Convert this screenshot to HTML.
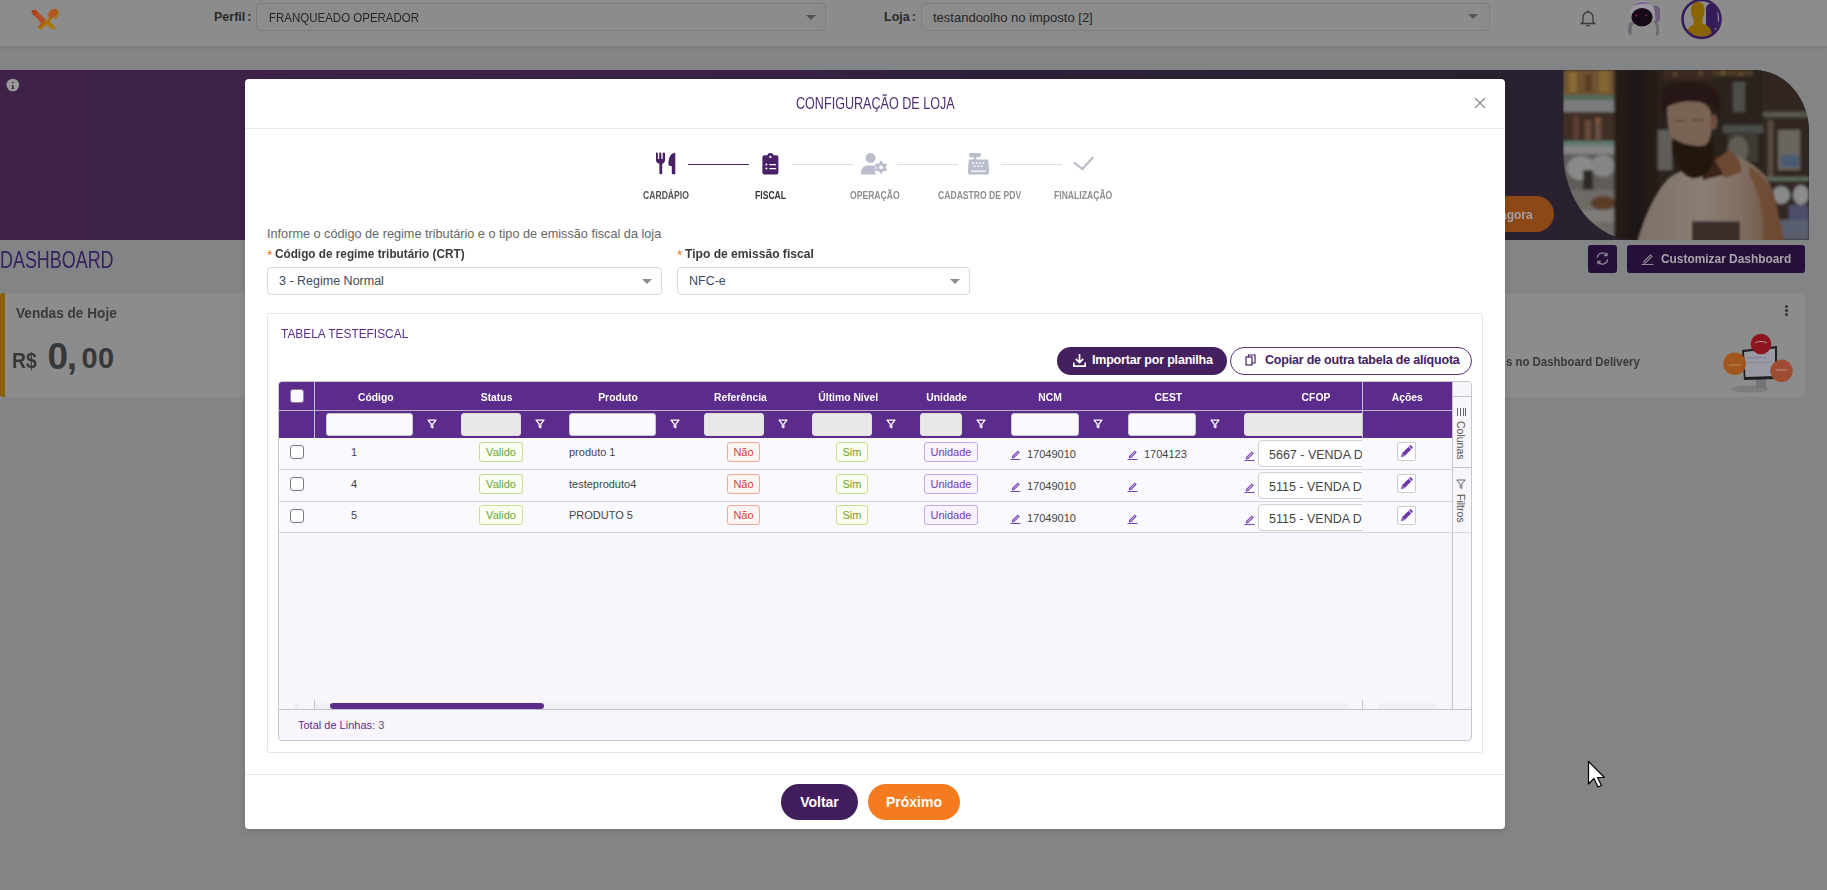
<!DOCTYPE html>
<html><head><meta charset="utf-8">
<style>
*{box-sizing:border-box;margin:0;padding:0}
html,body{width:1827px;height:890px;overflow:hidden}
body{position:relative;background:#838486;font-family:"Liberation Sans",sans-serif;color:#333}
.a{position:absolute}
.cond{display:inline-block;transform-origin:0 50%}
/* background page (pre-dimmed colours) */
#hdr{left:0;top:0;width:1827px;height:47px;background:#8c8c8c;border-bottom:1px solid #7f7f80;box-shadow:0 1px 2px rgba(0,0,0,.08)}
.sel{border:1px solid #7d7d7d;border-radius:4px;background:#8c8c8c;height:28px}
.caret{width:0;height:0;border-left:5px solid transparent;border-right:5px solid transparent;border-top:5px solid #555}
#banner{left:0;top:70px;width:1808px;height:170px;background:linear-gradient(90deg,#3e2249 0%,#3c2248 30%,#382244 42%,#30203b 52%,#2a2132 72%,#28212c 100%);border-radius:0 60px 0 0}

/* modal */
#modal{left:245px;top:79px;width:1260px;height:750px;background:#fff;border-radius:4px;box-shadow:0 3px 6px rgba(0,0,0,.12)}
.step-l{font-size:10px;font-weight:bold;color:#8e8e8e;letter-spacing:0}
.lbl{font-size:13px;color:#333}
.fsel{border:1px solid #d9d9d9;border-radius:4px;background:#fff;height:29px}
.fcaret{width:0;height:0;border-left:5px solid transparent;border-right:5px solid transparent;border-top:5px solid #8c8c8c}
#card{left:267px;top:313px;width:1216px;height:440px;border:1px solid #e6e6e6;border-radius:2px;background:#fff}
#tbl{left:278px;top:381px;width:1194px;height:360px;border:1px solid #c8c8cc;border-radius:4px;background:#f8f5fc;overflow:hidden}
.th{position:absolute;top:1px;height:29px;line-height:29px;color:#fff;font-size:11.5px;font-weight:bold;text-align:center}
.fin{position:absolute;top:31px;height:23px;border-radius:3px;background:#fbf9fd;border:1px solid #c8c8d0}
.fin.g{background:#e8e8e8;border-color:#e0e0e0}
.fun{position:absolute;top:37px}
.td{position:absolute;font-size:11px;color:#444}
.bdg{position:absolute;height:20px;line-height:18px;border-radius:3px;font-size:11px;text-align:center;border:1px solid}
.bv{border-color:#c8e08a;background:#fbfef2;color:#6aa536}
.bn{border-color:#f2a89a;background:#fff5f2;color:#e0403a}
.bs{border-color:#c8e08a;background:#fbfef2;color:#6aa536}
.bu{border-color:#c6a8ec;background:#f8f3fe;color:#6c3fb0}
.pen{position:absolute}
</style></head><body>

<!-- ============ BACKGROUND PAGE ============ -->
<div id="hdr" class="a"></div>
<!-- logo -->
<svg class="a" style="left:29px;top:7px" width="32" height="26" viewBox="0 0 32 26">
  <path d="M2 5 L6 2 L17 13 L13 17 Z" fill="#b44b24"/>
  <path d="M13 14 L16 13 L17 16 L11 22 L9 21 Z" fill="#b0521e"/>
  <circle cx="4" cy="4.5" r=".8" fill="#a3180c"/><circle cx="6.5" cy="5" r=".8" fill="#a3180c"/><circle cx="5" cy="7.5" r=".8" fill="#a3180c"/>
  <path d="M17 16 L20 14 L25 19 L22 22 Z" fill="#a87400"/>
  <path d="M23 21 L25.5 19.5 L27 21 L25 23 Z" fill="#a87400"/>
  <ellipse cx="24" cy="6.5" rx="4" ry="5.5" transform="rotate(45 24 6.5)" fill="#b0581e"/>
  <path d="M28.5 3 C30 6 29 9.5 25.5 11.5" stroke="#a87400" stroke-width="1.6" fill="none"/>
  <path d="M21 10 L10 21 L12 23 L23 12 Z" fill="#a87000"/>
</svg>
<div class="a" style="left:214px;top:10px;font-size:12.5px;color:#2a2a2a;font-weight:bold">Perfil<span style="margin-left:2px">:</span></div>
<div class="a sel" style="left:256px;top:3px;width:570px"></div>
<div class="a" style="left:269px;top:10px;font-size:13px;color:#262626"><span class="cond" style="transform:scaleX(.884)">FRANQUEADO OPERADOR</span></div>
<div class="a caret" style="left:806px;top:15px"></div>
<div class="a" style="left:884px;top:10px;font-size:12.5px;color:#2a2a2a;font-weight:bold">Loja<span style="margin-left:2px">:</span></div>
<div class="a sel" style="left:921px;top:3px;width:569px"></div>
<div class="a" style="left:933px;top:10px;font-size:13px;color:#262626">testandoolho no imposto [2]</div>
<div class="a caret" style="left:1468px;top:14px"></div>



<!-- bell -->
<svg class="a" style="left:1580px;top:9px" width="16" height="18" viewBox="0 0 16 18" fill="none" stroke="#3b3b3b" stroke-width="1.3"><path d="M3 13 V8 A5 5 0 0 1 13 8 V13 L14.5 14.5 H1.5 Z"/><path d="M8 1.5 V3"/><path d="M6.5 16 A1.6 1.6 0 0 0 9.5 16"/></svg>
<!-- robot avatar -->
<svg class="a" style="left:1626px;top:0" width="38" height="38" viewBox="0 0 38 38">
  <path d="M4 22 C1.5 26 1.5 31 3.5 35 L6 34 C5 30 5.5 26 8 23 Z" fill="#6a6a70"/>
  <path d="M30 20 C33 24 34 30 32 36 L29.5 35 C31 30 30.5 25 28 21.5 Z" fill="#6a6a70"/>
  <path d="M28 6 C31 5 34 7 34 11 V19 C34 21 32 22 30 21.5 Z" fill="#6e5a7a"/>
  <ellipse cx="16.5" cy="14" rx="12" ry="13.2" fill="#9c99a2"/>
  <path d="M7 6 C10 1.5 20 0 27 5 C24 3.5 14 3 7 6 Z" fill="#7a5e8a"/>
  <ellipse cx="16" cy="17.2" rx="10.6" ry="9.2" fill="#160a18"/>
  <circle cx="10.5" cy="15.5" r=".9" fill="#b0203a"/><circle cx="20" cy="15.5" r=".9" fill="#b0203a"/>
</svg>
<!-- user avatar -->
<svg class="a" style="left:1680px;top:-2px" width="44" height="43" viewBox="0 0 44 43">
  <defs><clipPath id="uc"><circle cx="21.5" cy="21" r="18"/></clipPath></defs>
  <g clip-path="url(#uc)">
    <path d="M26 10 C27 6 30 5 32 5.5 C36 6.5 37.5 11 37.5 16 C37.5 22 38.5 25 40.5 28 C38 30 36 30.5 34 30 L40 38 L30 42 L26 30 Z" fill="#341b5a"/>
    <path d="M11 13 C11 6 14 4 18 4 C22 4 24.5 6 24.5 12 C24.5 15 24 18 22.5 20 V26 C28 27.5 31.5 30 32 37 L31 42 H6 C6 34 8 29 13.5 26.5 V20.5 C12 18 11 16 11 13 Z" fill="#8a6403"/>
  </g>
  <circle cx="21.5" cy="21" r="19" fill="none" stroke="#341b5a" stroke-width="2.6"/>
</svg>
<div id="banner" class="a"></div>
<!-- info icon -->
<svg class="a" style="left:6px;top:78px" width="14" height="14" viewBox="0 0 14 14"><circle cx="6.8" cy="7" r="6.3" fill="#9a9a9a"/><rect x="6" y="3.9" width="1.6" height="1.4" fill="#3e2249"/><path d="M5.6 6.9 H7.6 V10.3 H8.1 V10.9 H5.6 V10.3 H6.1 V7.5 H5.6 Z" fill="#3e2249"/></svg>
<!-- photo -->
<svg class="a" style="left:1563px;top:70px" width="246" height="170" viewBox="0 0 246 170">
  <defs>
    <clipPath id="pc"><path d="M0 0 H191 A55 62 0 0 1 246 62 V170 H72 A72 89 0 0 1 0 81 Z"/></clipPath>
    <linearGradient id="shirt" x1="0" y1="0" x2="1" y2="0"><stop offset="0" stop-color="#7d7068"/><stop offset=".45" stop-color="#8a7e73"/><stop offset=".75" stop-color="#7e6c5e"/><stop offset="1" stop-color="#6a4630"/></linearGradient>
    <linearGradient id="pil" x1="0" y1="0" x2="1" y2="0"><stop offset="0" stop-color="#2a1f1a"/><stop offset=".5" stop-color="#1c1411"/><stop offset="1" stop-color="#2a201b"/></linearGradient>
    <filter id="bl" x="-20%" y="-20%" width="140%" height="140%"><feGaussianBlur stdDeviation="1.6"/></filter>
    <filter id="bl2"><feGaussianBlur stdDeviation="0.8"/></filter>
  </defs>
  <g clip-path="url(#pc)">
    <rect width="246" height="170" fill="#2b211c"/>
    <g filter="url(#bl)">
      <!-- left shelf -->
      <rect x="0" y="0" width="52" height="26" fill="#6e5330"/>
      <rect x="6" y="2" width="8" height="20" fill="#8a6a32"/>
      <rect x="22" y="4" width="7" height="18" fill="#5a3e24"/>
      <rect x="36" y="0" width="10" height="22" fill="#846633"/>
      <rect x="0" y="25" width="52" height="5" fill="#4f6b5a"/>
      <rect x="0" y="30" width="52" height="12" fill="#7a7c7b"/>
      <rect x="0" y="42" width="52" height="30" fill="#3d2e28"/>
      <rect x="10" y="46" width="6" height="24" fill="#5a3e30"/>
      <rect x="22" y="50" width="6" height="20" fill="#6a4a38"/>
      <rect x="32" y="48" width="6" height="22" fill="#6a5040"/>
      <circle cx="35" cy="50" r="2" fill="#a0562a"/>
      <rect x="0" y="71" width="52" height="5" fill="#5f7a6c"/>
      <rect x="0" y="76" width="52" height="8" fill="#858786"/>
      <rect x="0" y="84" width="52" height="36" fill="#5e5c5a"/>
      <ellipse cx="18" cy="98" rx="14" ry="12" fill="#8a8a88"/>
      <ellipse cx="40" cy="96" rx="12" ry="11" fill="#848584"/>
      <rect x="20" y="100" width="10" height="20" fill="#2f2a26"/>
      <rect x="0" y="120" width="52" height="50" fill="#6e6a66"/>
      <ellipse cx="40" cy="133" rx="12" ry="7" fill="#5a3a28"/>
      <rect x="0" y="140" width="52" height="12" fill="#7e7c78"/>
      <!-- pillar -->
      <rect x="51" y="0" width="46" height="170" fill="url(#pil)"/>
      <!-- back area -->
      <rect x="97" y="0" width="110" height="170" fill="#2a201b"/>
      <rect x="100" y="0" width="50" height="10" fill="#3a2c22"/><circle cx="112" cy="4" r="2" fill="#6a5030"/><circle cx="138" cy="3" r="2" fill="#6a5030"/>
      <rect x="150" y="0" width="40" height="6" fill="#4a3a28"/><circle cx="160" cy="3" r="2" fill="#7a6030"/><circle cx="178" cy="4" r="1.6" fill="#7a5a30"/>
      <rect x="95" y="60" width="14" height="40" fill="#5e5d5a"/>
      <rect x="160" y="55" width="40" height="8" fill="#4c4e48"/>
      <rect x="165" y="62" width="30" height="30" fill="#3e3a33"/>
      <ellipse cx="175" cy="80" rx="10" ry="14" fill="#615d55"/>
      <rect x="170" y="12" width="12" height="30" fill="#4d5048"/>
      <!-- right area -->
      <rect x="200" y="0" width="46" height="170" fill="#302620"/>
      <rect x="200" y="42" width="46" height="5" fill="#5c5a4e"/>
      <rect x="205" y="50" width="5" height="60" fill="#5a4b3c"/>
      <rect x="200" y="107" width="46" height="4" fill="#5a6a5c"/>
      <rect x="215" y="60" width="22" height="40" fill="#6a655e"/>
      <rect x="218" y="85" width="18" height="12" fill="#4a5a72"/>
      <ellipse cx="218" cy="125" rx="9" ry="9" fill="#8a8a8a"/>
      <ellipse cx="238" cy="125" rx="8" ry="10" fill="#8c8c8e"/>
      <rect x="226" y="135" width="20" height="35" fill="#4c4e6a"/>
      <rect x="210" y="150" width="36" height="20" fill="#5a5e70"/>
    </g>
    <g filter="url(#bl2)">
    <!-- shirt -->
    <path d="M74 172 C80 150 90 126 104 110 C112 102 122 100 132 98 L152 92 L168 84 C180 88 196 96 204 108 C212 122 216 146 221 172 Z" fill="url(#shirt)"/>
    <path d="M186 96 C198 104 208 116 212 134 L221 172 L200 172 C202 150 198 124 186 104 Z" fill="#6e4a32" opacity=".8"/>
    <!-- neck shadow / collar -->
    <path d="M136 92 L158 84 L164 104 L140 110 Z" fill="#3a2418"/>
    <path d="M152 90 L166 80 C174 86 180 94 178 102 L162 108 Z" fill="#6c4631"/>
    <!-- face -->
    <path d="M104 40 C104 33 114 31 126 31 C138 31 146 34 148 42 L149 58 C148 66 146 72 142 76 L112 76 C106 66 104 54 104 40 Z" fill="#7a6254"/>
    <ellipse cx="151" cy="52" rx="3.5" ry="8" fill="#6a4e40"/>
    <path d="M112 51 L122 51" stroke="#4a352a" stroke-width="1.2"/>
    <path d="M130 50 L140 50" stroke="#4a352a" stroke-width="1.2"/>
    <!-- hair -->
    <path d="M98 36 C95 18 108 11 126 12 C146 12 158 20 157 36 L155 48 C152 40 150 36 146 34 C136 30 116 30 104 37 L101 46 Z" fill="#261914"/>
    <!-- beard -->
    <path d="M110 68 C109 88 116 104 128 108 C140 110 150 100 151 86 L150 64 C148 72 144 76 138 76 C128 76 118 74 110 68 Z" fill="#231510"/>
    <!-- tablet -->
    <rect x="129" y="150" width="48" height="22" fill="#3a2e29"/>
    <rect x="129" y="150" width="48" height="1.5" fill="#7a726c"/>
    </g>
  </g>
</svg>
<!-- agora button -->
<div class="a" style="left:1470px;top:196px;width:84px;height:36px;border-radius:18px;background:#8c4816"></div>
<div class="a" style="left:1500px;top:207px;font-size:13px;font-weight:bold;color:#a5a2a8"><span class="cond" style="transform:scaleX(.92)">agora</span></div>

<!-- DASHBOARD title -->
<div class="a" style="left:0;top:248px;font-size:24px;color:#36215e;line-height:24px"><span class="cond" style="transform:scaleX(.747)">DASHBOARD</span></div>
<!-- refresh btn -->
<div class="a" style="left:1588px;top:245px;width:29px;height:28px;border-radius:3px;background:#26103a"></div>
<svg class="a" style="left:1595px;top:251px" width="15" height="15" viewBox="0 0 16 16" fill="none" stroke="#8e8a92" stroke-width="1.4"><path d="M2.5 7 A5.5 5.5 0 0 1 12.5 4.5"/><path d="M13.5 9 A5.5 5.5 0 0 1 3.5 11.5"/><path d="M12.8 1.8 V4.8 H9.8"/><path d="M3.2 14.2 V11.2 H6.2"/></svg>
<!-- customizar btn -->
<div class="a" style="left:1627px;top:245px;width:178px;height:28px;border-radius:3px;background:#26103a"></div>
<svg class="a" style="left:1641px;top:252px" width="13" height="13" viewBox="0 0 13 13" fill="none" stroke="#8e8a92" stroke-width="1.1"><path d="M3 9.5 L9.5 3 L11 4.5 L4.5 11 H3 Z"/><path d="M0.5 12.5 H12.5"/></svg>
<div class="a" style="left:1661px;top:251px;font-size:13px;font-weight:bold;color:#a9a6ab"><span class="cond" style="transform:scaleX(.915)">Customizar Dashboard</span></div>

<!-- cards -->
<div class="a" style="left:0;top:293px;width:260px;height:104px;background:#8c8c8c;border-radius:3px"></div>
<div class="a" style="left:0;top:293px;width:5px;height:104px;background:#8a6000;border-radius:3px 0 0 3px"></div>
<div class="a" style="left:16px;top:305px;font-size:14.5px;font-weight:bold;color:#3a3a3c"><span class="cond" style="transform:scaleX(.94)">Vendas de Hoje</span></div>
<div class="a" style="left:11.6px;top:350.2px;font-size:22px;line-height:1;font-weight:bold;color:#38383a"><span class="cond" style="transform:scaleX(.88)">R$</span></div>
<div class="a" style="left:47.6px;top:337.5px;font-size:37px;line-height:1;font-weight:bold;color:#38383a">0</div><div class="a" style="left:66.8px;top:337.5px;font-size:37px;line-height:1;font-weight:bold;color:#38383a">,</div><div class="a" style="left:81.4px;top:344.3px;font-size:29px;line-height:1;font-weight:bold;color:#38383a;letter-spacing:.5px">00</div>

<div class="a" style="left:1490px;top:293px;width:315px;height:104px;background:#8c8c8c;border-radius:3px"></div>
<div class="a" style="left:1506px;top:354px;font-size:13.5px;font-weight:bold;color:#3a3a3c"><span class="cond" style="transform:scaleX(.845)">s no Dashboard Delivery</span></div>
<div class="a" style="left:1785px;top:305px;width:3px;height:3px;border-radius:50%;background:#333;box-shadow:0 4px 0 #333,0 8px 0 #333"></div>
<!-- delivery illus -->
<svg class="a" style="left:1720px;top:332px" width="75" height="62" viewBox="0 0 75 62">
  <ellipse cx="30" cy="57" rx="19" ry="3.5" fill="#7c7c7e"/>
  <rect x="36" y="47" width="10" height="9" fill="#747476"/>
  <path d="M22 18 L57 14 L57 47 L24 48 Z" fill="#1e1e22"/>
  <path d="M24 20 L55 16.5 L55 44 L25.5 45 Z" fill="#9a9aa2"/>
  <rect x="27" y="25" width="20" height="1.5" fill="#8a86a0"/>
  <rect x="27" y="30" width="22" height="1" fill="#8a8a94"/>
  <circle cx="41" cy="12" r="10.3" fill="#8c1520"/>
  <circle cx="14.7" cy="31.7" r="11.3" fill="#a0561c"/>
  <circle cx="61.5" cy="38.8" r="11.2" fill="#a04c34"/>
  <path d="M35 11 C38 9 44 9 47 11" stroke="#b89a9a" stroke-width="1" fill="none"/>
  <path d="M9 33 H21" stroke="#b09060" stroke-width="1"/>
  <path d="M56 38 H67" stroke="#b89a8a" stroke-width="1"/>
</svg>


<!-- ============ MODAL ============ -->
<div id="modal" class="a"></div>
<div class="a" style="left:796px;top:94px;font-size:17px;color:#4e2d72;line-height:20px"><span class="cond" style="transform:scaleX(.74)">CONFIGURAÇÃO DE LOJA</span></div>
<svg class="a" style="left:1474px;top:97px" width="12" height="12" viewBox="0 0 12 12" stroke="#888" stroke-width="1.2"><path d="M1 1 L11 11 M11 1 L1 11"/></svg>
<div class="a" style="left:245px;top:128px;width:1260px;height:1px;background:#e8e8e8"></div>

<!-- stepper -->
<svg class="a" style="left:655px;top:152px" width="22" height="23" viewBox="0 0 22 23" fill="#4a2168"><path d="M1 1 C1 0.5 1.5 0.5 2 0.6 C2.6 0.7 2.9 1 2.9 1.4 V7 H4.2 V1.2 C4.2 0.6 5.2 0.6 5.3 0.6 C6 0.6 6.4 0.8 6.4 1.2 V7 H7.7 V1.3 C7.7 0.7 8.5 0.6 8.8 0.6 C9.6 0.6 10 0.8 10 1.3 V8 C10 10 8.8 11.5 7.2 11.8 V21.3 C7.2 22 6.6 22.3 5.8 22.3 C5 22.3 4.4 22 4.4 21.3 V11.8 C2.4 11.5 1 10 1 8 Z"/><path d="M19.6 0.8 C20.2 0.8 20.3 1.3 20.3 1.8 V21.3 C20.3 22 19.6 22.4 18.6 22.4 C17.6 22.4 16.8 22 16.8 21.3 V14.2 C14.8 14 13.4 13.6 13.4 12.2 C13.4 6 15.5 1.5 19.6 0.8 Z"/></svg>
<div class="a" style="left:688px;top:164px;width:61px;height:1px;background:#4a2168"></div>
<svg class="a" style="left:762px;top:152px" width="17" height="23" viewBox="0 0 17 23" fill="#4a2168"><path d="M2.4 3.2 H5.4 C5.6 1.8 6.8 0.9 8.4 0.9 C10 0.9 11.2 1.8 11.4 3.2 H14.4 C15.5 3.2 16.4 4.1 16.4 5.2 V20.6 C16.4 21.7 15.5 22.6 14.4 22.6 H2.4 C1.3 22.6 0.4 21.7 0.4 20.6 V5.2 C0.4 4.1 1.3 3.2 2.4 3.2 Z"/><g fill="#fff"><circle cx="8.4" cy="4.9" r="1.1"/><circle cx="4.4" cy="12.6" r="1"/><rect x="7.2" y="12" width="7" height="1.3" rx=".6"/><circle cx="4.4" cy="16.6" r="1"/><rect x="7.2" y="16" width="7" height="1.3" rx=".6"/></g></svg>
<div class="a" style="left:792px;top:164px;width:61px;height:1px;background:#dcdce2"></div>
<svg class="a" style="left:861px;top:153px" width="27" height="22" viewBox="0 0 27 22" fill="#b9bdcc"><circle cx="9.6" cy="5" r="5"/><path d="M0 20 C0 15 3 12.5 7 12.5 H12.5 C13.5 12.5 14.3 12.7 15 13 C14 14 13.8 15.5 14.5 16.5 C13.5 17.6 13.6 19.5 14.8 21.4 H1.4 C0.6 21.4 0 20.8 0 20 Z"/><g transform="translate(20,14.3)"><path d="M-1.1 -6.3 H1.1 L1.5 -4.3 L3.2 -3.3 L5 -4.1 L6.1 -2.2 L4.6 -0.9 V1 L6.1 2.3 L5 4.2 L3.2 3.4 L1.5 4.4 L1.1 6.3 H-1.1 L-1.5 4.4 L-3.2 3.4 L-5 4.2 L-6.1 2.3 L-4.6 1 V-0.9 L-6.1 -2.2 L-5 -4.1 L-3.2 -3.3 L-1.5 -4.3 Z"/><circle r="1.9" fill="#fff"/></g></svg>
<div class="a" style="left:897px;top:164px;width:61px;height:1px;background:#dcdce2"></div>
<svg class="a" style="left:968px;top:153px" width="22" height="22" viewBox="0 0 22 22" fill="#b9bdcc"><rect x="1.2" y="0" width="11.5" height="4.3" rx="1"/><rect x="5.8" y="4" width="2.4" height="3"/><path d="M3.2 6.6 H18.8 C19.6 6.6 20 7 20.2 7.6 L21 17 V19.6 C21 20.6 20.4 21.4 19.4 21.4 H1.6 C0.6 21.4 0 20.6 0 19.6 V17 L0.8 7.6 C1 7 1.4 6.6 2.2 6.6 Z"/><g fill="#fff"><circle cx="5" cy="10" r=".9"/><circle cx="8.5" cy="10" r=".9"/><circle cx="12" cy="10" r=".9"/><circle cx="15.5" cy="10" r=".9"/><circle cx="6.5" cy="13.2" r=".9"/><circle cx="10" cy="13.2" r=".9"/><circle cx="13.5" cy="13.2" r=".9"/><rect x="3" y="17.6" width="15" height="1.2" rx=".5"/></g></svg>
<div class="a" style="left:1001px;top:164px;width:61px;height:1px;background:#dcdce2"></div>
<svg class="a" style="left:1073px;top:156px" width="21" height="15" viewBox="0 0 21 15" fill="none" stroke="#b9bdcc" stroke-width="2.3" stroke-linecap="round"><path d="M1.6 7.2 L9.4 13 L19.6 1.8"/></svg>

<div class="a step-l" style="left:643px;top:190px;color:#555"><span class="cond" style="transform:scaleX(.86)">CARDÁPIO</span></div>
<div class="a step-l" style="left:755px;top:190px;color:#333"><span class="cond" style="transform:scaleX(.86)">FISCAL</span></div>
<div class="a step-l" style="left:850px;top:190px"><span class="cond" style="transform:scaleX(.86)">OPERAÇÃO</span></div>
<div class="a step-l" style="left:938px;top:190px"><span class="cond" style="transform:scaleX(.86)">CADASTRO DE PDV</span></div>
<div class="a step-l" style="left:1054px;top:190px"><span class="cond" style="transform:scaleX(.86)">FINALIZAÇÃO</span></div>

<!-- form -->
<div class="a" style="left:267px;top:227px;font-size:12.7px;color:#666">Informe o código de regime tributário e o tipo de emissão fiscal da loja</div>
<div class="a lbl" style="left:267px;top:245px"><span style="color:#f07c1a;margin-right:3px;font-size:14px;position:relative;top:2px">*</span><b class="cond" style="color:#3a3a3a;transform:scaleX(.905)">Código de regime tributário (CRT)</b></div>
<div class="a fsel" style="left:267px;top:267px;width:395px;height:28px"></div>
<div class="a" style="left:279px;top:274px;font-size:12.5px;color:#3b4a5a">3 - Regime Normal</div>
<div class="a fcaret" style="left:642px;top:279px"></div>
<div class="a lbl" style="left:677px;top:245px"><span style="color:#f07c1a;margin-right:3px;font-size:14px;position:relative;top:2px">*</span><b class="cond" style="color:#3a3a3a;transform:scaleX(.93)">Tipo de emissão fiscal</b></div>
<div class="a fsel" style="left:677px;top:267px;width:293px;height:28px"></div>
<div class="a" style="left:689px;top:274px;font-size:12.5px;color:#3b4a5a">NFC-e</div>
<div class="a fcaret" style="left:950px;top:279px"></div>

<!-- card -->
<div id="card" class="a"></div>
<div class="a" style="left:281px;top:326px;font-size:13px;color:#5b2c8c"><span class="cond" style="transform:scaleX(.916)">TABELA TESTEFISCAL</span></div>
<div class="a" style="left:1057px;top:347px;width:170px;height:28px;border-radius:14px;background:#45205e"></div>
<svg class="a" style="left:1073px;top:354px" width="13" height="13" viewBox="0 0 13 13" fill="#fff"><path d="M5.6 0 H7.4 V6.5 L9.6 4.3 L10.8 5.5 L6.5 9.8 L2.2 5.5 L3.4 4.3 L5.6 6.5 Z"/><path d="M0 8.5 H1.6 V11.2 H11.4 V8.5 H13 V13 H0 Z"/></svg>
<div class="a" style="left:1092px;top:353px;font-size:12.5px;font-weight:bold;color:#fff;letter-spacing:-.2px">Importar por planilha</div>
<div class="a" style="left:1230px;top:347px;width:242px;height:28px;border-radius:14px;background:#fff;border:1px solid #5a3278"></div>
<svg class="a" style="left:1245px;top:354px" width="11" height="12" viewBox="0 0 11 12" fill="none" stroke="#45205e" stroke-width="1.2"><rect x="1" y="3" width="6" height="8"/><path d="M3.5 3 V1 H10 V9 H7"/></svg>
<div class="a" style="left:1265px;top:353px;font-size:12.5px;font-weight:bold;color:#45205e;letter-spacing:-.2px">Copiar de outra tabela de alíquota</div>
<div id="tbl" class="a"><div class="a" style="left:0;top:0;width:1173px;height:56px;background:#5b2c8c"></div>
<div class="a" style="left:0;top:28px;width:1173px;height:1px;background:#bcb0cc"></div>
<div class="a" style="left:35px;top:0;width:1px;height:150px;background:#c3c3c8"></div>
<div class="a" style="left:1083px;top:0;width:1px;height:150px;background:#c3c3c8"></div>
<div class="a" style="left:11px;top:7px;width:14px;height:14px;border-radius:3px;background:#fbf9fd;border:1px solid #8a8a8a"></div>
<div class="th" style="left:37px;width:120px"><span class="cond" style="transform:scaleX(.9);transform-origin:50% 50%">Código</span></div>
<div class="fin" style="left:47px;width:87px"></div>
<svg class="fun" style="left:148px" width="10" height="10" viewBox="0 0 10 10" fill="none" stroke="#fff" stroke-width="1.2" stroke-linejoin="round"><path d="M1 1.2 H9 L5.8 5 V8.8 L4.2 8 V5 Z"/></svg>
<div class="th" style="left:158px;width:120px"><span class="cond" style="transform:scaleX(.9);transform-origin:50% 50%">Status</span></div>
<div class="fin g" style="left:182px;width:60px"></div>
<svg class="fun" style="left:256px" width="10" height="10" viewBox="0 0 10 10" fill="none" stroke="#fff" stroke-width="1.2" stroke-linejoin="round"><path d="M1 1.2 H9 L5.8 5 V8.8 L4.2 8 V5 Z"/></svg>
<div class="th" style="left:279px;width:120px"><span class="cond" style="transform:scaleX(.9);transform-origin:50% 50%">Produto</span></div>
<div class="fin" style="left:290px;width:87px"></div>
<svg class="fun" style="left:391px" width="10" height="10" viewBox="0 0 10 10" fill="none" stroke="#fff" stroke-width="1.2" stroke-linejoin="round"><path d="M1 1.2 H9 L5.8 5 V8.8 L4.2 8 V5 Z"/></svg>
<div class="th" style="left:401px;width:120px"><span class="cond" style="transform:scaleX(.9);transform-origin:50% 50%">Referência</span></div>
<div class="fin g" style="left:425px;width:60px"></div>
<svg class="fun" style="left:499px" width="10" height="10" viewBox="0 0 10 10" fill="none" stroke="#fff" stroke-width="1.2" stroke-linejoin="round"><path d="M1 1.2 H9 L5.8 5 V8.8 L4.2 8 V5 Z"/></svg>
<div class="th" style="left:509px;width:120px"><span class="cond" style="transform:scaleX(.9);transform-origin:50% 50%">Último Nível</span></div>
<div class="fin g" style="left:533px;width:60px"></div>
<svg class="fun" style="left:607px" width="10" height="10" viewBox="0 0 10 10" fill="none" stroke="#fff" stroke-width="1.2" stroke-linejoin="round"><path d="M1 1.2 H9 L5.8 5 V8.8 L4.2 8 V5 Z"/></svg>
<div class="th" style="left:608px;width:120px"><span class="cond" style="transform:scaleX(.9);transform-origin:50% 50%">Unidade</span></div>
<div class="fin g" style="left:641px;width:42px"></div>
<svg class="fun" style="left:697px" width="10" height="10" viewBox="0 0 10 10" fill="none" stroke="#fff" stroke-width="1.2" stroke-linejoin="round"><path d="M1 1.2 H9 L5.8 5 V8.8 L4.2 8 V5 Z"/></svg>
<div class="th" style="left:711px;width:120px"><span class="cond" style="transform:scaleX(.9);transform-origin:50% 50%">NCM</span></div>
<div class="fin" style="left:732px;width:68px"></div>
<svg class="fun" style="left:814px" width="10" height="10" viewBox="0 0 10 10" fill="none" stroke="#fff" stroke-width="1.2" stroke-linejoin="round"><path d="M1 1.2 H9 L5.8 5 V8.8 L4.2 8 V5 Z"/></svg>
<div class="th" style="left:829px;width:120px"><span class="cond" style="transform:scaleX(.9);transform-origin:50% 50%">CEST</span></div>
<div class="fin" style="left:849px;width:68px"></div>
<svg class="fun" style="left:931px" width="10" height="10" viewBox="0 0 10 10" fill="none" stroke="#fff" stroke-width="1.2" stroke-linejoin="round"><path d="M1 1.2 H9 L5.8 5 V8.8 L4.2 8 V5 Z"/></svg>
<div class="th" style="left:977px;width:120px"><span class="cond" style="transform:scaleX(.9);transform-origin:50% 50%">CFOP</span></div>
<div class="fin g" style="left:965px;width:122px;border-radius:3px 0 0 3px"></div>
<div class="a" style="left:1083px;top:29px;width:90px;height:27px;background:#5b2c8c"></div>
<div class="a" style="left:1083px;top:0;width:1px;height:56px;background:#c3c3c8"></div>
<div class="th" style="left:1068px;width:120px"><span class="cond" style="transform:scaleX(.9);transform-origin:50% 50%">Ações</span></div>
<div class="a" style="left:0;top:56px;width:1173px;height:32px;background:#faf9fd;border-bottom:1px solid #d6d6da"></div>
<div class="a" style="left:11px;top:63.0px;width:14px;height:14px;border-radius:3px;background:#fff;border:1px solid #7a7a7a"></div>
<div class="td" style="left:72px;top:63.5px">1</div>
<div class="bdg bv" style="left:200px;top:59.5px;width:44px">Valido</div>
<div class="td" style="left:290px;top:63.5px">produto 1</div>
<div class="bdg bn" style="left:448px;top:59.5px;width:33px">Não</div>
<div class="bdg bs" style="left:557px;top:59.5px;width:32px">Sim</div>
<div class="bdg bu" style="left:645px;top:59.5px;width:54px">Unidade</div>
<svg class="pen" style="left:731px;top:67.0px" width="11" height="11" viewBox="0 0 11 11" fill="none" stroke="#7a44b8" stroke-width="1.1"><path d="M2.5 7.5 L7.8 2.2 L9 3.4 L3.7 8.7 H2.5 Z"/><path d="M0.5 10.5 H10.5"/></svg>
<div class="td" style="left:748px;top:66.0px">17049010</div>
<svg class="pen" style="left:848px;top:67.0px" width="11" height="11" viewBox="0 0 11 11" fill="none" stroke="#7a44b8" stroke-width="1.1"><path d="M2.5 7.5 L7.8 2.2 L9 3.4 L3.7 8.7 H2.5 Z"/><path d="M0.5 10.5 H10.5"/></svg>
<div class="td" style="left:865px;top:66.0px">1704123</div>
<svg class="pen" style="left:965px;top:68.0px" width="11" height="11" viewBox="0 0 11 11" fill="none" stroke="#7a44b8" stroke-width="1.1"><path d="M2.5 7.5 L7.8 2.2 L9 3.4 L3.7 8.7 H2.5 Z"/><path d="M0.5 10.5 H10.5"/></svg>
<div class="a" style="left:979px;top:58px;width:104px;height:27px;overflow:hidden"><div style="width:130px;height:27px;border:1px solid #d0d0d0;border-radius:4px;background:#fff;font-size:12.5px;color:#444;padding:7px 0 0 10px;white-space:nowrap">5667 - VENDA DE</div></div>
<div class="a" style="left:1118px;top:60px;width:19px;height:19px;border:1px solid #ccc;border-radius:2px;background:#fff"></div>
<svg class="a" style="left:1121px;top:62.5px" width="13" height="13" viewBox="0 0 14 14" preserveAspectRatio="none"><path d="M1.2 12.8 L2 9.2 L9.2 2 L12 4.8 L4.8 12 Z" fill="#6a35a8"/><path d="M9.8 1.4 L10.6 0.6 C11 0.2 11.6 0.2 12 0.6 L13.4 2 C13.8 2.4 13.8 3 13.4 3.4 L12.6 4.2 Z" fill="#6a35a8"/><path d="M2.3 9.4 L4.6 11.7" stroke="#fff" stroke-width=".7"/></svg>
<div class="a" style="left:0;top:88px;width:1173px;height:32px;background:#faf9fd;border-bottom:1px solid #d6d6da"></div>
<div class="a" style="left:11px;top:95.0px;width:14px;height:14px;border-radius:3px;background:#fff;border:1px solid #7a7a7a"></div>
<div class="td" style="left:72px;top:95.5px">4</div>
<div class="bdg bv" style="left:200px;top:91.5px;width:44px">Valido</div>
<div class="td" style="left:290px;top:95.5px">testeproduto4</div>
<div class="bdg bn" style="left:448px;top:91.5px;width:33px">Não</div>
<div class="bdg bs" style="left:557px;top:91.5px;width:32px">Sim</div>
<div class="bdg bu" style="left:645px;top:91.5px;width:54px">Unidade</div>
<svg class="pen" style="left:731px;top:99.0px" width="11" height="11" viewBox="0 0 11 11" fill="none" stroke="#7a44b8" stroke-width="1.1"><path d="M2.5 7.5 L7.8 2.2 L9 3.4 L3.7 8.7 H2.5 Z"/><path d="M0.5 10.5 H10.5"/></svg>
<div class="td" style="left:748px;top:98.0px">17049010</div>
<svg class="pen" style="left:848px;top:99.0px" width="11" height="11" viewBox="0 0 11 11" fill="none" stroke="#7a44b8" stroke-width="1.1"><path d="M2.5 7.5 L7.8 2.2 L9 3.4 L3.7 8.7 H2.5 Z"/><path d="M0.5 10.5 H10.5"/></svg>
<svg class="pen" style="left:965px;top:100.0px" width="11" height="11" viewBox="0 0 11 11" fill="none" stroke="#7a44b8" stroke-width="1.1"><path d="M2.5 7.5 L7.8 2.2 L9 3.4 L3.7 8.7 H2.5 Z"/><path d="M0.5 10.5 H10.5"/></svg>
<div class="a" style="left:979px;top:90px;width:104px;height:27px;overflow:hidden"><div style="width:130px;height:27px;border:1px solid #d0d0d0;border-radius:4px;background:#fff;font-size:12.5px;color:#444;padding:7px 0 0 10px;white-space:nowrap">5115 - VENDA DE</div></div>
<div class="a" style="left:1118px;top:92px;width:19px;height:19px;border:1px solid #ccc;border-radius:2px;background:#fff"></div>
<svg class="a" style="left:1121px;top:94.5px" width="13" height="13" viewBox="0 0 14 14" preserveAspectRatio="none"><path d="M1.2 12.8 L2 9.2 L9.2 2 L12 4.8 L4.8 12 Z" fill="#6a35a8"/><path d="M9.8 1.4 L10.6 0.6 C11 0.2 11.6 0.2 12 0.6 L13.4 2 C13.8 2.4 13.8 3 13.4 3.4 L12.6 4.2 Z" fill="#6a35a8"/><path d="M2.3 9.4 L4.6 11.7" stroke="#fff" stroke-width=".7"/></svg>
<div class="a" style="left:0;top:120px;width:1173px;height:31px;background:#faf9fd;border-bottom:1px solid #d6d6da"></div>
<div class="a" style="left:11px;top:126.5px;width:14px;height:14px;border-radius:3px;background:#fff;border:1px solid #7a7a7a"></div>
<div class="td" style="left:72px;top:127.0px">5</div>
<div class="bdg bv" style="left:200px;top:123.0px;width:44px">Valido</div>
<div class="td" style="left:290px;top:127.0px">PRODUTO 5</div>
<div class="bdg bn" style="left:448px;top:123.0px;width:33px">Não</div>
<div class="bdg bs" style="left:557px;top:123.0px;width:32px">Sim</div>
<div class="bdg bu" style="left:645px;top:123.0px;width:54px">Unidade</div>
<svg class="pen" style="left:731px;top:130.5px" width="11" height="11" viewBox="0 0 11 11" fill="none" stroke="#7a44b8" stroke-width="1.1"><path d="M2.5 7.5 L7.8 2.2 L9 3.4 L3.7 8.7 H2.5 Z"/><path d="M0.5 10.5 H10.5"/></svg>
<div class="td" style="left:748px;top:129.5px">17049010</div>
<svg class="pen" style="left:848px;top:130.5px" width="11" height="11" viewBox="0 0 11 11" fill="none" stroke="#7a44b8" stroke-width="1.1"><path d="M2.5 7.5 L7.8 2.2 L9 3.4 L3.7 8.7 H2.5 Z"/><path d="M0.5 10.5 H10.5"/></svg>
<svg class="pen" style="left:965px;top:131.5px" width="11" height="11" viewBox="0 0 11 11" fill="none" stroke="#7a44b8" stroke-width="1.1"><path d="M2.5 7.5 L7.8 2.2 L9 3.4 L3.7 8.7 H2.5 Z"/><path d="M0.5 10.5 H10.5"/></svg>
<div class="a" style="left:979px;top:122px;width:104px;height:27px;overflow:hidden"><div style="width:130px;height:27px;border:1px solid #d0d0d0;border-radius:4px;background:#fff;font-size:12.5px;color:#444;padding:7px 0 0 10px;white-space:nowrap">5115 - VENDA DE</div></div>
<div class="a" style="left:1118px;top:124px;width:19px;height:19px;border:1px solid #ccc;border-radius:2px;background:#fff"></div>
<svg class="a" style="left:1121px;top:126.5px" width="13" height="13" viewBox="0 0 14 14" preserveAspectRatio="none"><path d="M1.2 12.8 L2 9.2 L9.2 2 L12 4.8 L4.8 12 Z" fill="#6a35a8"/><path d="M9.8 1.4 L10.6 0.6 C11 0.2 11.6 0.2 12 0.6 L13.4 2 C13.8 2.4 13.8 3 13.4 3.4 L12.6 4.2 Z" fill="#6a35a8"/><path d="M2.3 9.4 L4.6 11.7" stroke="#fff" stroke-width=".7"/></svg>
<div class="a" style="left:1173px;top:0;width:19px;height:327px;background:#f8f6fa;border-left:1px solid #c3c3c8"></div>
<div class="a" style="left:1173px;top:14px;width:19px;height:1px;background:#c3c3c8"></div>
<div class="a" style="left:1173px;top:85px;width:19px;height:1px;background:#c3c3c8"></div>
<div class="a" style="left:1173px;top:150px;width:19px;height:1px;background:#c3c3c8"></div>
<div class="a" style="font-size:10.5px;color:#555;transform:rotate(90deg);transform-origin:0 0;left:1188px;top:39px;white-space:nowrap">Colunas</div>
<div class="a" style="font-size:10.5px;color:#555;transform:rotate(90deg);transform-origin:0 0;left:1188px;top:112px;white-space:nowrap">Filtros</div>
<div class="a" style="left:1178px;top:26px;width:9px;height:8px;border-left:1px solid #666;border-right:1px solid #666;background:linear-gradient(90deg,transparent 2px,#666 2px,#666 3px,transparent 3px,transparent 5px,#666 5px,#666 6px,transparent 6px)"></div>
<svg class="a" style="left:1177px;top:97px" width="10" height="10" viewBox="0 0 10 10" fill="none" stroke="#666" stroke-width="1"><path d="M0.8 1 H9.2 L5.8 5 V9.6 L4.2 8.6 V5 Z"/></svg>
<div class="a" style="left:0;top:150px;width:1192px;height:1px;background:#d6d6da"></div>
<div class="a" style="left:35px;top:321px;width:1034px;height:6px;background:#f1f0f2"></div>
<div class="a" style="left:15px;top:321px;width:5px;height:6px;background:#efeef2"></div>
<div class="a" style="left:1099px;top:321px;width:59px;height:6px;background:#f1f0f2"></div>
<div class="a" style="left:35px;top:318px;width:1px;height:9px;background:#c3c3c8"></div>
<div class="a" style="left:1083px;top:318px;width:1px;height:9px;background:#c3c3c8"></div>
<div class="a" style="left:51px;top:321px;width:214px;height:6px;border-radius:3px;background:#5b2c8c"></div>
<div class="a" style="left:0;top:327px;width:1192px;height:1px;background:#c3c3c8"></div>
<div class="a" style="left:19px;top:337px;font-size:11px;color:#5b2c8c">Total de Linhas: <span style="color:#555">3</span></div></div>
<!-- footer -->
<div class="a" style="left:245px;top:774px;width:1260px;height:1px;background:#e8e8e8"></div>
<div class="a" style="left:781px;top:784px;width:77px;height:36px;border-radius:18px;background:#421e5c;color:#fff;font-size:14px;font-weight:bold;text-align:center;line-height:36px">Voltar</div>
<div class="a" style="left:868px;top:784px;width:92px;height:36px;border-radius:18px;background:#f47b20;color:#fff;font-size:14px;font-weight:bold;text-align:center;line-height:36px">Próximo</div>

<!-- cursor -->
<svg class="a" style="left:1587px;top:760px" width="20" height="30" viewBox="0 0 20 30"><path d="M1.5 1.5 V24 L7 18.5 L11 27 L14.5 25.5 L10.5 17.5 H17.5 Z" fill="#fff" stroke="#000" stroke-width="1.2" stroke-linejoin="round"/></svg>

</body></html>
